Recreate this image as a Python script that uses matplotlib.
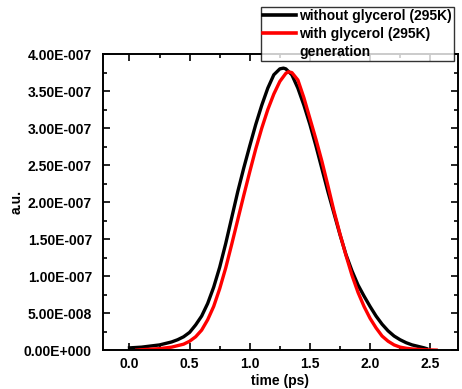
import matplotlib
matplotlib.use("Agg")
import matplotlib.pyplot as plt
from matplotlib.lines import Line2D
from matplotlib.ticker import MultipleLocator, AutoMinorLocator

plt.rcParams['font.family'] = ['Liberation Sans', 'DejaVu Sans']
plt.rcParams['font.weight'] = 'bold'

# values (time in ps, signal in units of 1e-7 a.u.)
t_black = [0.0, 0.05, 0.1, 0.15, 0.2, 0.25, 0.3, 0.35, 0.4, 0.45, 0.5, 0.55, 0.6, 0.65,
           0.7, 0.75, 0.8, 0.85, 0.9, 0.95, 1.0, 1.05, 1.1, 1.15, 1.2, 1.25, 1.28, 1.3,
           1.35, 1.4, 1.45, 1.5, 1.55, 1.6, 1.65, 1.7, 1.75, 1.8, 1.85, 1.9, 1.95, 2.0,
           2.05, 2.1, 2.15, 2.2, 2.25, 2.3, 2.35, 2.4, 2.45, 2.47]
v_black = [0.03, 0.035, 0.04, 0.05, 0.06, 0.07, 0.09, 0.11, 0.14, 0.18, 0.24, 0.34, 0.46, 0.63,
           0.85, 1.12, 1.44, 1.79, 2.14, 2.46, 2.76, 3.05, 3.31, 3.54, 3.72, 3.80, 3.81, 3.80,
           3.72, 3.54, 3.31, 3.05, 2.76, 2.45, 2.14, 1.85, 1.56, 1.29, 1.07, 0.88, 0.73, 0.59,
           0.46, 0.35, 0.26, 0.19, 0.14, 0.10, 0.07, 0.05, 0.03, 0.02]

t_red = [0.06, 0.1, 0.15, 0.2, 0.25, 0.3, 0.35, 0.4, 0.45, 0.5, 0.55, 0.6, 0.65,
         0.7, 0.75, 0.8, 0.85, 0.9, 0.95, 1.0, 1.05, 1.1, 1.15, 1.2, 1.25, 1.3, 1.32,
         1.35, 1.4, 1.45, 1.5, 1.55, 1.6, 1.65, 1.7, 1.75, 1.8, 1.85, 1.9, 1.95, 2.0,
         2.05, 2.1, 2.15, 2.2, 2.25, 2.3, 2.35, 2.4, 2.45, 2.55]
v_red = [0.0, 0.005, 0.01, 0.015, 0.02, 0.03, 0.04, 0.06, 0.08, 0.12, 0.18, 0.27, 0.41,
         0.59, 0.83, 1.11, 1.43, 1.76, 2.09, 2.41, 2.72, 3.00, 3.25, 3.46, 3.63, 3.74, 3.76,
         3.75, 3.65, 3.41, 3.13, 2.85, 2.55, 2.22, 1.88, 1.57, 1.28, 1.01, 0.78, 0.59, 0.43,
         0.30, 0.19, 0.12, 0.07, 0.04, 0.025, 0.015, 0.01, 0.005, 0.0]

scale = 1e-7
labels = ['without glycerol (295K)', 'with glycerol (295K)', 'generation']

fig = plt.figure(figsize=(4.62, 3.89), dpi=100)
ax = fig.add_axes([0.223, 0.100, 0.768, 0.761])

ax.plot(t_black, [v * scale for v in v_black], color='black', lw=2.4)
ax.plot(t_red, [v * scale for v in v_red], color='red', lw=2.4)

ax.set_xlim(-0.22, 2.73)
ax.set_ylim(0, 4.0e-7)
ax.xaxis.set_major_locator(MultipleLocator(0.5))
ax.xaxis.set_minor_locator(AutoMinorLocator(2))
ax.yaxis.set_major_locator(MultipleLocator(0.5e-7))
ax.yaxis.set_minor_locator(AutoMinorLocator(2))

def sci_fmt(v, pos):
    if abs(v) < 1e-20:
        return '0.00E+000'
    s = '%.2E' % v
    mant, ex = s.split('E')
    sign = ex[0]
    return '%sE%s%03d' % (mant, sign, abs(int(ex)))

ax.yaxis.set_major_formatter(plt.FuncFormatter(sci_fmt))

ax.tick_params(which='both', direction='in', top=True, right=True, labelsize=10, width=1.2)
ax.tick_params(which='major', length=5)
ax.tick_params(axis='y', which='major', pad=8)
ax.tick_params(axis='x', which='major', pad=5)
ax.tick_params(which='minor', length=3)
for sp in ax.spines.values():
    sp.set_linewidth(1.4)

ax.set_xlabel('time (ps)', fontsize=10, fontweight='bold', labelpad=2)
ax.set_ylabel('a.u.', fontsize=10, fontweight='bold', labelpad=0)

handles = [Line2D([], [], color='black', lw=2.6),
           Line2D([], [], color='red', lw=2.6),
           Line2D([], [], color='none', lw=2.6)]
leg = fig.legend(handles, labels, loc='upper right', bbox_to_anchor=(454 / 462, 1 - 7 / 389),
                 fontsize=10, frameon=True, fancybox=False, edgecolor='black',
                 handlelength=2.4, handletextpad=0.2, borderpad=0.15, labelspacing=0.28,
                 borderaxespad=0.0)
leg.get_frame().set_linewidth(1.0)
for txt in leg.get_texts():
    txt.set_fontweight('bold')

fig.savefig('out.png', dpi=100)
